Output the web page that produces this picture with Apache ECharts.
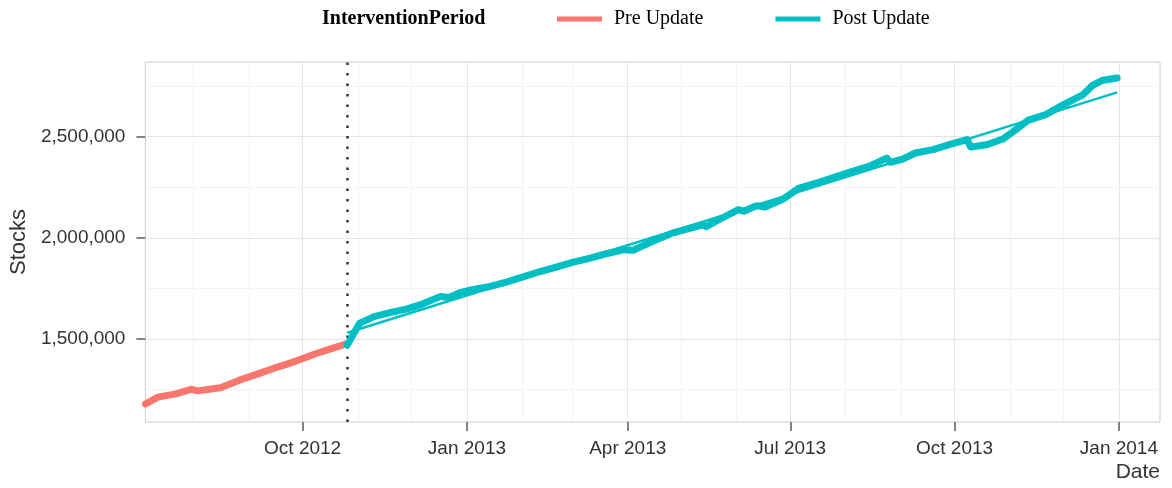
<!doctype html>
<html>
<head>
    <meta charset="utf-8">
    <title>Stocks</title>
    <script src="https://cdn.jsdelivr.net/npm/echarts@6/dist/echarts.min.js"></script>
    <style>
        html, body {margin: 0; padding: 0; background: #fff;}
        #chart {width: 1172px; height: 488px;}
    </style>
</head>
<body>
<div id="chart"></div>
<script>
    // pre update
    var preDates = ['2012-07-05', '2012-07-12', '2012-07-22', '2012-07-31', '2012-08-03', '2012-08-16',
        '2012-08-17', '2012-08-27', '2012-09-06', '2012-09-15', '2012-09-24', '2012-10-03', '2012-10-09',
        '2012-10-15', '2012-10-25'];
    var preValues = [1178000, 1212000, 1228000, 1251000, 1243000, 1258000,
        1252000, 1297000, 1327000, 1355000, 1380000, 1409000, 1429000,
        1446000, 1474000];

    // post update
    var postDates = ['2012-10-26', '2012-11-02', '2012-11-10', '2012-11-19', '2012-11-28', '2012-12-07',
        '2012-12-17', '2012-12-22', '2012-12-28', '2013-01-04', '2013-01-14', '2013-01-23', '2013-02-01',
        '2013-02-11', '2013-02-20', '2013-03-01', '2013-03-11', '2013-03-20', '2013-03-30', '2013-04-04',
        '2013-04-15', '2013-04-26', '2013-05-13', '2013-05-15', '2013-05-22', '2013-06-02', '2013-06-05',
        '2013-06-12', '2013-06-17', '2013-06-27', '2013-07-06', '2013-07-17', '2013-08-03', '2013-08-14',
        '2013-08-24', '2013-08-26', '2013-09-02', '2013-09-09', '2013-09-19', '2013-09-28', '2013-10-08',
        '2013-10-10', '2013-10-19', '2013-10-28', '2013-11-03', '2013-11-11', '2013-11-21', '2013-12-01',
        '2013-12-12', '2013-12-17', '2013-12-23', '2013-12-31'];
    var postValues = [1470000, 1578000, 1610000, 1630000, 1647000, 1672000,
        1709000, 1705000, 1728000, 1743000, 1759000, 1781000, 1805000,
        1833000, 1855000, 1878000, 1899000, 1921000, 1941000, 1938000,
        1982000, 2023000, 2064000, 2055000, 2089000, 2139000, 2131000,
        2158000, 2152000, 2191000, 2246000, 2274000, 2323000, 2353000,
        2394000, 2373000, 2389000, 2419000, 2436000, 2460000, 2485000,
        2449000, 2460000, 2488000, 2526000, 2580000, 2609000, 2658000,
        2708000, 2752000, 2779000, 2790000];

    // fitted trend after update
    var trendDates = ['2012-10-26', '2013-12-31'];
    var trendValues = [1530000, 2719000];

    var updateDate = '2012-10-26';

    var xTickDates = ['2012-10-01', '2013-01-01', '2013-04-01', '2013-07-01', '2013-10-01', '2014-01-01'];
    var xTickLabels = ['Oct 2012', 'Jan 2013', 'Apr 2013', 'Jul 2013', 'Oct 2013', 'Jan 2014'];
    var xMinorDates = ['2012-08-01', '2012-09-01', '2012-11-01', '2012-12-01', '2013-02-01', '2013-03-01',
        '2013-05-01', '2013-06-01', '2013-08-01', '2013-09-01', '2013-11-01', '2013-12-01'];
    var yTickValues = [1500000, 2000000, 2500000];
    var yMinorValues = [1250000, 1750000, 2250000, 2750000];

    function ts(s) {
        var p = s.split('-');
        return new Date(+p[0], +p[1] - 1, +p[2]).getTime();
    }
    function pairs(dates, values) {
        return dates.map(function (d, i) { return [ts(d), values[i]]; });
    }

    var xTicks = xTickDates.map(ts);
    var gridLines = [];
    xMinorDates.forEach(function (d) {
        gridLines.push({xAxis: ts(d), lineStyle: {color: '#F2F2F2', width: 1, type: 'solid'}});
    });
    yMinorValues.forEach(function (v) {
        gridLines.push({yAxis: v, lineStyle: {color: '#F2F2F2', width: 1, type: 'solid'}});
    });
    xTicks.forEach(function (t) {
        gridLines.push({xAxis: t, lineStyle: {color: '#E5E5E5', width: 1, type: 'solid'}});
    });
    yTickValues.forEach(function (v) {
        gridLines.push({yAxis: v, lineStyle: {color: '#E5E5E5', width: 1, type: 'solid'}});
    });
    gridLines.push({xAxis: ts(updateDate), lineStyle: {color: '#333333', width: 2.5, type: [2.5, 8]}});

    var myChart = echarts.init(document.getElementById('chart'));
    var option = {
        animation: false,
        backgroundColor: '#ffffff',
        title: {
            text: 'InterventionPeriod',
            left: 322,
            top: 9,
            padding: 0,
            textStyle: {fontFamily: 'Liberation Serif', fontWeight: 'bold', fontSize: 20, color: '#000'}
        },
        legend: {
            data: ['Pre Update', 'Post Update'],
            left: 557,
            top: 9,
            padding: 0,
            icon: 'rect',
            itemWidth: 45,
            itemHeight: 5,
            itemGap: 72,
            textStyle: {fontFamily: 'Liberation Serif', fontSize: 20, color: '#000', padding: [0, 0, 0, 7]}
        },
        grid: {
            left: 145, right: 12, top: 62, bottom: 66,
            show: true, borderColor: '#CCCCCC', borderWidth: 1
        },
        xAxis: {
            type: 'value',
            min: ts('2012-07-05'),
            max: ts('2014-01-24'),
            scale: true,
            name: 'Date',
            nameLocation: 'end',
            nameGap: 0,
            nameTextStyle: {
                fontFamily: 'Liberation Sans', fontSize: 21, color: '#333333',
                align: 'right', verticalAlign: 'top', padding: [40, 0, 0, 0]
            },
            axisLine: {show: false},
            axisTick: {show: true, length: 9, customValues: xTicks, lineStyle: {color: '#595959', width: 1.5}},
            axisLabel: {
                customValues: xTicks,
                margin: 17,
                fontFamily: 'Liberation Sans', fontSize: 19, color: '#333333',
                formatter: function (val) {
                    var i = xTicks.indexOf(val);
                    return i >= 0 ? xTickLabels[i] : '';
                }
            },
            splitLine: {show: false}
        },
        yAxis: {
            type: 'value',
            min: 1089000,
            max: 2869000,
            name: 'Stocks',
            nameLocation: 'middle',
            nameGap: 110,
            nameTextStyle: {fontFamily: 'Liberation Sans', fontSize: 22, color: '#333333'},
            axisLine: {show: false},
            axisTick: {show: true, length: 9, customValues: yTickValues, lineStyle: {color: '#595959', width: 1.5}},
            axisLabel: {
                customValues: yTickValues,
                margin: 20,
                fontFamily: 'Liberation Sans', fontSize: 19, color: '#333333',
                formatter: function (v) { return v.toLocaleString('en-US'); }
            },
            splitLine: {show: false}
        },
        series: [
            {
                name: 'grid',
                type: 'line',
                data: [],
                z: 1,
                silent: true,
                markLine: {
                    z: 1,
                    silent: true,
                    symbol: ['none', 'none'],
                    label: {show: false},
                    data: gridLines
                }
            },
            {
                name: 'Pre Update',
                type: 'line',
                data: pairs(preDates, preValues),
                z: 6,
                showSymbol: false,
                color: '#F8766D',
                lineStyle: {width: 7, color: '#F8766D', cap: 'round', join: 'round'}
            },
            {
                name: 'Post Update',
                type: 'line',
                data: pairs(postDates, postValues),
                z: 6,
                showSymbol: false,
                color: '#00BFC4',
                lineStyle: {width: 7, color: '#00BFC4', cap: 'round', join: 'round'}
            },
            {
                name: 'Post Trend',
                type: 'line',
                data: pairs(trendDates, trendValues),
                z: 7,
                showSymbol: false,
                color: '#00BFC4',
                lineStyle: {width: 2.5, color: '#00BFC4'}
            }
        ]
    };
    myChart.setOption(option);
</script>
</body>
</html>
